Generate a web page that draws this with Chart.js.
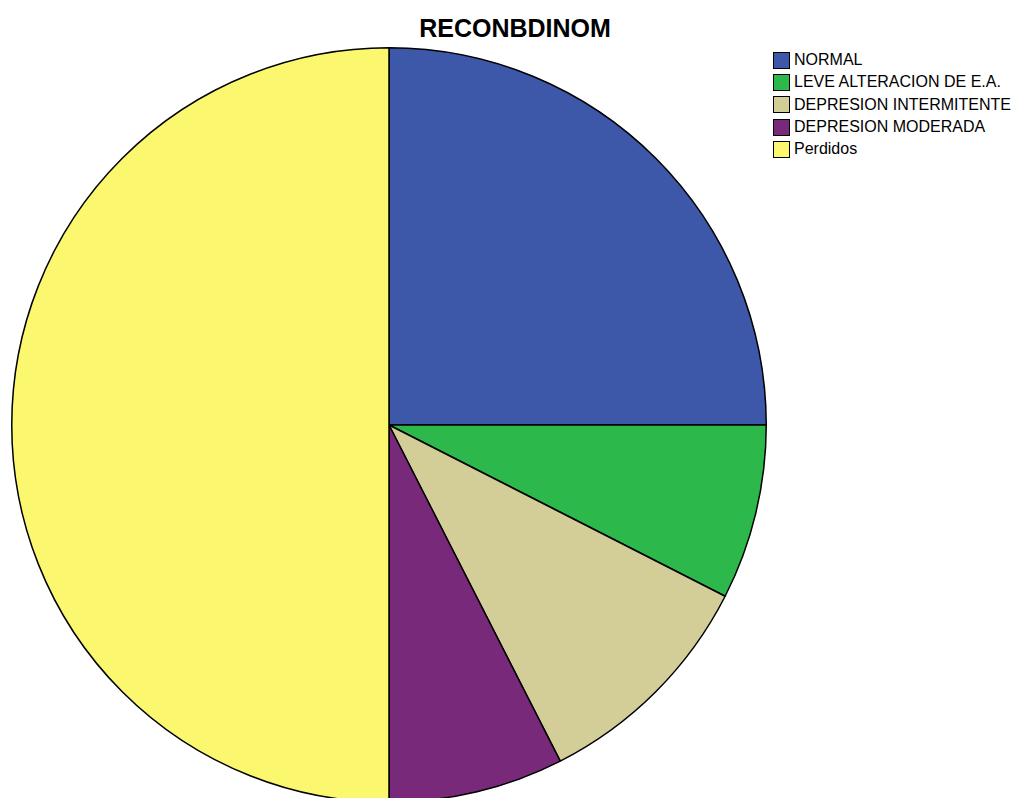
<!DOCTYPE html>
<html>
<head>
<meta charset="utf-8">
<script src="https://cdn.jsdelivr.net/npm/chart.js@4"></script>
<style>
  html, body { margin:0; padding:0; background:#fff; width:1016px; height:798px; overflow:hidden; position:relative; }
  #title { position:absolute; left:0; width:1030px; top:13px; text-align:center; font-family:"Liberation Sans", Arial, sans-serif; font-weight:bold; font-size:25px; color:#000; line-height:30px; }
  #wrap { position:absolute; left:9px; top:45px; width:760px; height:760px; }
  #legend { position:absolute; left:773px; top:49px; font-family:"Liberation Sans", Arial, sans-serif; font-size:16px; color:#000; }
  .row { height:22.3px; display:flex; align-items:center; white-space:nowrap; }
  .box { width:15px; height:15px; border:1px solid #000; margin-right:4px; box-sizing:content-box; }
</style>
</head>
<body>
<div id="title">RECONBDINOM</div>
<div id="wrap"><canvas id="c"></canvas></div>
<div id="legend"></div>
<script>
const categories = ["NORMAL", "LEVE ALTERACION DE E.A.", "DEPRESION INTERMITENTE", "DEPRESION MODERADA", "Perdidos"];
const counts = [10, 3, 4, 3, 20];
const colors = ["#3D57A9", "#2DB84B", "#D3CE98", "#792979", "#FBF870"];

const legend = document.getElementById('legend');
categories.forEach((name, i) => {
  const row = document.createElement('div');
  row.className = 'row';
  const box = document.createElement('div');
  box.className = 'box';
  box.style.background = colors[i];
  const t = document.createElement('span');
  t.textContent = name;
  row.appendChild(box); row.appendChild(t);
  legend.appendChild(row);
});

new Chart(document.getElementById('c'), {
  type: 'pie',
  data: {
    labels: categories,
    datasets: [{
      data: counts,
      backgroundColor: colors,
      borderColor: '#000',
      borderWidth: 1.5
    }]
  },
  options: {
    responsive: true,
    maintainAspectRatio: false,
    animation: false,
    layout: { padding: 2 },
    plugins: {
      legend: { display: false },
      title: { display: false },
      tooltip: { enabled: false }
    }
  }
});
</script>
</body>
</html>
